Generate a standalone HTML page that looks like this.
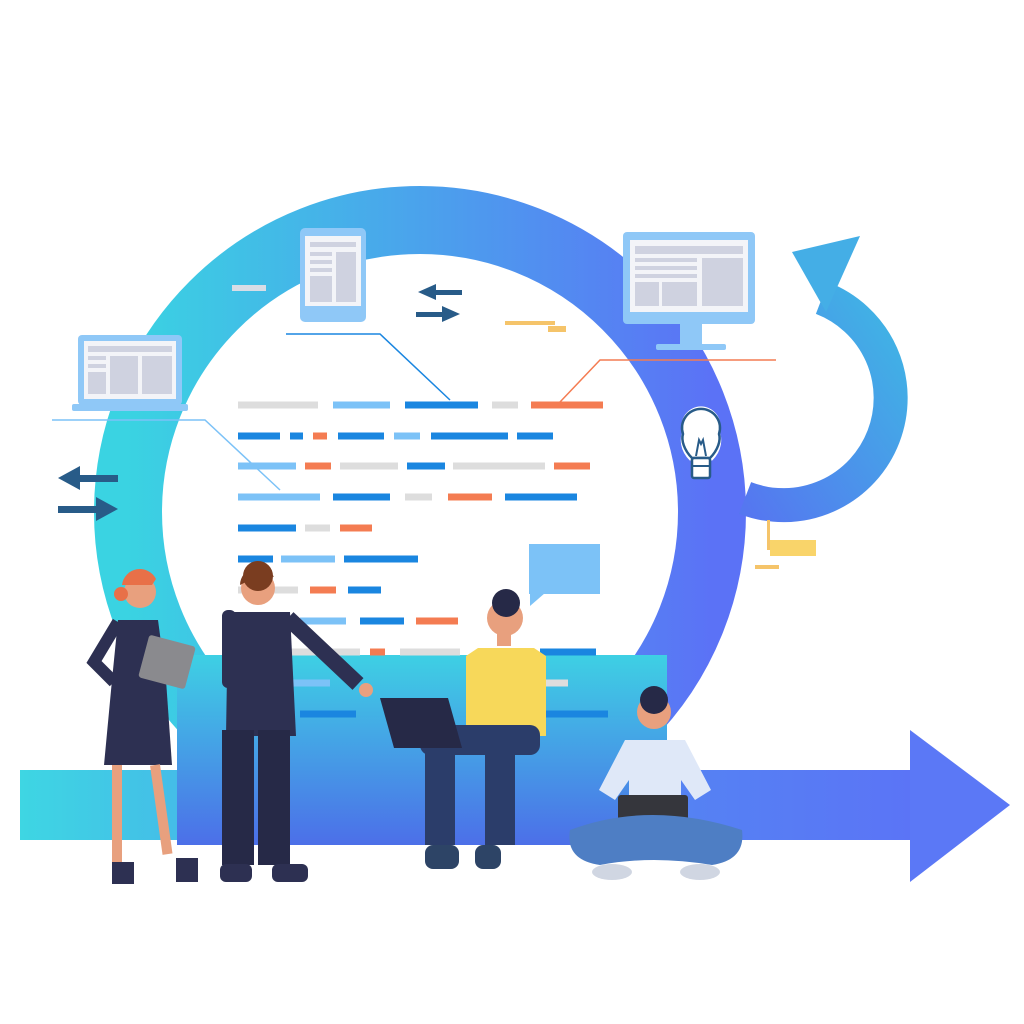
<!DOCTYPE html>
<html><head><meta charset="utf-8"><style>html,body{margin:0;padding:0;background:#fff}svg{display:block}</style></head>
<body>
<svg width="1024" height="1024" viewBox="0 0 1024 1024" xmlns="http://www.w3.org/2000/svg">
<defs>
<linearGradient id="ring" x1="0" y1="0" x2="1" y2="0"><stop offset="0" stop-color="#3ad3e2"/><stop offset="1" stop-color="#5b72f6"/></linearGradient>
<linearGradient id="arr" x1="0" y1="0" x2="1" y2="0"><stop offset="0" stop-color="#3ed6e3"/><stop offset="0.5" stop-color="#4f8ff0"/><stop offset="1" stop-color="#5b74f6"/></linearGradient>
<linearGradient id="box" x1="0" y1="0" x2="0" y2="1"><stop offset="0" stop-color="#3ed0e4"/><stop offset="1" stop-color="#4c6fe8"/></linearGradient>
<linearGradient id="small" x1="0" y1="1" x2="1" y2="0"><stop offset="0" stop-color="#5577f0"/><stop offset="1" stop-color="#3fb6e4"/></linearGradient>
</defs>
<rect x="20" y="770" width="895" height="70" fill="url(#arr)"/>
<polygon points="910,730 1010,805 910,882" fill="#5b78f6"/>
<circle cx="420" cy="512" r="292" fill="none" stroke="url(#ring)" stroke-width="68"/>
<path d="M745,498 A88,88 0 1 0 822,298" fill="none" stroke="url(#small)" stroke-width="34"/>
<polygon points="792,252 860,236 826,312" fill="#44aee6"/>
<rect x="177" y="655" width="490" height="190" fill="url(#box)"/>
<g stroke-width="7">
<line x1="238" y1="405" x2="318" y2="405" stroke="#ddd"/><line x1="333" y1="405" x2="390" y2="405" stroke="#7cc2f7"/><line x1="405" y1="405" x2="478" y2="405" stroke="#1a86e0"/><line x1="492" y1="405" x2="518" y2="405" stroke="#ddd"/><line x1="531" y1="405" x2="603" y2="405" stroke="#f47c52"/>
<line x1="238" y1="436" x2="280" y2="436" stroke="#1a86e0"/><line x1="290" y1="436" x2="303" y2="436" stroke="#1a86e0"/><line x1="313" y1="436" x2="327" y2="436" stroke="#f47c52"/><line x1="338" y1="436" x2="384" y2="436" stroke="#1a86e0"/><line x1="394" y1="436" x2="420" y2="436" stroke="#7cc2f7"/><line x1="431" y1="436" x2="508" y2="436" stroke="#1a86e0"/><line x1="517" y1="436" x2="553" y2="436" stroke="#1a86e0"/>
<line x1="238" y1="466" x2="296" y2="466" stroke="#7cc2f7"/><line x1="305" y1="466" x2="331" y2="466" stroke="#f47c52"/><line x1="340" y1="466" x2="398" y2="466" stroke="#ddd"/><line x1="407" y1="466" x2="445" y2="466" stroke="#1a86e0"/><line x1="453" y1="466" x2="545" y2="466" stroke="#ddd"/><line x1="554" y1="466" x2="590" y2="466" stroke="#f47c52"/>
<line x1="238" y1="497" x2="320" y2="497" stroke="#7cc2f7"/><line x1="333" y1="497" x2="390" y2="497" stroke="#1a86e0"/><line x1="405" y1="497" x2="432" y2="497" stroke="#ddd"/><line x1="448" y1="497" x2="492" y2="497" stroke="#f47c52"/><line x1="505" y1="497" x2="577" y2="497" stroke="#1a86e0"/>
<line x1="238" y1="528" x2="296" y2="528" stroke="#1a86e0"/><line x1="305" y1="528" x2="330" y2="528" stroke="#ddd"/><line x1="340" y1="528" x2="372" y2="528" stroke="#f47c52"/>
<line x1="238" y1="559" x2="273" y2="559" stroke="#1a86e0"/><line x1="281" y1="559" x2="335" y2="559" stroke="#7cc2f7"/><line x1="344" y1="559" x2="418" y2="559" stroke="#1a86e0"/>
<line x1="238" y1="590" x2="298" y2="590" stroke="#ddd"/><line x1="310" y1="590" x2="336" y2="590" stroke="#f47c52"/><line x1="348" y1="590" x2="381" y2="590" stroke="#1a86e0"/>
<line x1="300" y1="621" x2="346" y2="621" stroke="#7cc2f7"/><line x1="360" y1="621" x2="404" y2="621" stroke="#1a86e0"/><line x1="416" y1="621" x2="458" y2="621" stroke="#f47c52"/>
<line x1="290" y1="652" x2="360" y2="652" stroke="#ddd"/><line x1="370" y1="652" x2="385" y2="652" stroke="#f47c52"/><line x1="400" y1="652" x2="460" y2="652" stroke="#ddd"/><line x1="540" y1="652" x2="596" y2="652" stroke="#1a86e0"/>
<line x1="290" y1="683" x2="330" y2="683" stroke="#7cc2f7"/><line x1="500" y1="683" x2="568" y2="683" stroke="#ddd"/>
<line x1="300" y1="714" x2="356" y2="714" stroke="#1a86e0"/><line x1="540" y1="714" x2="608" y2="714" stroke="#1a86e0"/>
</g>
<g fill="none" stroke-width="1.5">
<polyline points="286,334 380,334 450,400" stroke="#1a86e0"/>
<polyline points="776,360 600,360 560,402" stroke="#f47c52"/>
<polyline points="52,420 205,420 280,490" stroke="#7cc2f7"/>
</g>
<rect x="232" y="285" width="34" height="6" fill="#d8dde6"/>
<rect x="505" y="321" width="50" height="4" fill="#f5c46a"/><rect x="548" y="326" width="18" height="6" fill="#f5c46a"/>
<rect x="767" y="520" width="3" height="30" fill="#f5c46a"/><rect x="770" y="540" width="46" height="16" fill="#f9d46a"/><rect x="755" y="565" width="24" height="4" fill="#f5c46a"/>
<g fill="#285b88">
<rect x="436" y="290" width="26" height="5"/><polygon points="418,292 436,284 436,300"/>
<rect x="416" y="312" width="26" height="5"/><polygon points="460,314 442,306 442,322"/>
<rect x="78" y="475" width="40" height="7"/><polygon points="58,478 80,466 80,490"/>
<rect x="58" y="506" width="40" height="7"/><polygon points="118,509 96,497 96,521"/>
</g>
<rect x="300" y="228" width="66" height="94" rx="5" fill="#8fc8f7"/><rect x="305" y="236" width="56" height="70" fill="#f3f4f8"/>
<g fill="#cfd2e0"><rect x="310" y="242" width="46" height="5"/><rect x="310" y="252" width="22" height="4"/><rect x="310" y="260" width="22" height="4"/><rect x="310" y="268" width="22" height="4"/><rect x="336" y="252" width="20" height="50"/><rect x="310" y="276" width="22" height="26"/></g>
<rect x="78" y="335" width="104" height="70" rx="4" fill="#8fc8f7"/><rect x="84" y="341" width="92" height="58" fill="#f3f4f8"/>
<rect x="72" y="404" width="116" height="7" rx="2" fill="#8fc8f7"/>
<g fill="#cfd2e0"><rect x="88" y="346" width="84" height="6"/><rect x="88" y="356" width="18" height="4"/><rect x="88" y="364" width="18" height="4"/><rect x="88" y="372" width="18" height="22"/><rect x="110" y="356" width="28" height="38"/><rect x="142" y="356" width="30" height="38"/></g>
<rect x="623" y="232" width="132" height="92" rx="4" fill="#8fc8f7"/><rect x="630" y="240" width="118" height="72" fill="#f3f4f8"/>
<rect x="680" y="324" width="22" height="20" fill="#8fc8f7"/><rect x="656" y="344" width="70" height="6" rx="2" fill="#8fc8f7"/>
<g fill="#cfd2e0"><rect x="635" y="246" width="108" height="8"/><rect x="635" y="258" width="62" height="4"/><rect x="635" y="266" width="62" height="4"/><rect x="635" y="274" width="62" height="4"/><rect x="635" y="282" width="24" height="24"/><rect x="662" y="282" width="35" height="24"/><rect x="702" y="258" width="41" height="48"/></g>
<!-- bulb -->
<path d="M690,460 C680,450 680,438 683,432 A19,19 0 1 1 719,432 C722,438 722,450 712,460 Z" fill="#fff" stroke="#fff" stroke-width="1"/>
<path d="M692,458 C684,450 681,440 683,434 A19,19 0 1 1 719,434 C721,440 718,450 710,458 Z" fill="none" stroke="#285b88" stroke-width="2.5"/>
<path d="M696,456 l3,-16 l2,4 l2,-4 l3,16" fill="none" stroke="#285b88" stroke-width="2"/>
<rect x="692" y="458" width="18" height="20" rx="2" fill="#fff" stroke="#285b88" stroke-width="2.5"/>
<line x1="692" y1="466" x2="710" y2="466" stroke="#285b88" stroke-width="2"/>
<rect x="529" y="544" width="71" height="50" fill="#7cc2f7"/><polygon points="530,590 530,606 545,593" fill="#7cc2f7"/>
<circle cx="140" cy="592" r="16" fill="#e8a07e"/><path d="M122,585 a18,18 0 0 1 34,-6 l-4,6 z" fill="#e87048"/><circle cx="121" cy="594" r="7" fill="#e87048"/>
<path d="M118,620 h40 l8,60 l6,85 h-68 l8,-85 z" fill="#2d3052"/>
<path d="M118,622 l-24,40 l20,20" fill="none" stroke="#2d3052" stroke-width="12"/>
<rect x="143" y="640" width="48" height="44" rx="3" transform="rotate(15 167 662)" fill="#8a8a8e"/>
<rect x="112" y="765" width="10" height="100" fill="#e8a07e"/><rect x="150" y="765" width="10" height="90" fill="#e8a07e" transform="rotate(-8 155 765)"/>
<rect x="112" y="862" width="22" height="22" fill="#2d3052"/><rect x="176" y="858" width="22" height="24" fill="#2d3052"/>
<circle cx="258" cy="588" r="17" fill="#e8a07e"/><path d="M240,585 a18,18 0 0 1 34,-8 l-10,-4 z" fill="#7a3d20"/><circle cx="258" cy="576" r="15" fill="#7a3d20"/>
<path d="M228,612 h62 l6,124 h-70 z" fill="#2d3052"/>
<path d="M288,618 l70,66" fill="none" stroke="#2d3052" stroke-width="16"/><circle cx="366" cy="690" r="7" fill="#e8a07e"/>
<rect x="222" y="610" width="14" height="78" rx="6" fill="#2d3052"/>
<rect x="222" y="730" width="32" height="135" fill="#262947"/><rect x="258" y="730" width="32" height="135" fill="#262947"/>
<rect x="220" y="864" width="32" height="18" rx="6" fill="#2d3052"/><rect x="272" y="864" width="36" height="18" rx="6" fill="#2d3052"/>
<circle cx="505" cy="618" r="18" fill="#e8a07e"/><circle cx="506" cy="603" r="14" fill="#262947"/>
<rect x="497" y="632" width="14" height="14" fill="#e8a07e"/>
<path d="M478,648 h56 l12,8 v80 h-80 v-80 z" fill="#f7d85a"/>
<rect x="420" y="725" width="120" height="30" rx="10" fill="#2b3d6a"/>
<rect x="425" y="745" width="30" height="100" fill="#2b3d6a"/><rect x="485" y="745" width="30" height="100" fill="#2b3d6a"/>
<rect x="425" y="845" width="34" height="24" rx="8" fill="#2d4466"/><rect x="475" y="845" width="26" height="24" rx="8" fill="#2d4466"/>
<polygon points="380,698 448,698 462,748 394,748" fill="#262947"/>
<circle cx="654" cy="712" r="17" fill="#e8a07e"/><circle cx="654" cy="700" r="14" fill="#262947"/>
<path d="M625,740 h60 l26,50 l-16,10 l-14,-20 v40 h-52 v-40 l-14,20 l-16,-10 z" fill="#dfe8f8"/>
<rect x="618" y="795" width="70" height="42" rx="3" fill="#35363c"/>
<path d="M570,830 q80,-30 172,0 q4,30 -30,35 q-60,-10 -112,0 q-35,-5 -30,-35 z" fill="#4e7ec4"/>
<ellipse cx="612" cy="872" rx="20" ry="8" fill="#d0d6e2"/><ellipse cx="700" cy="872" rx="20" ry="8" fill="#d0d6e2"/>
</svg>
</body></html>
